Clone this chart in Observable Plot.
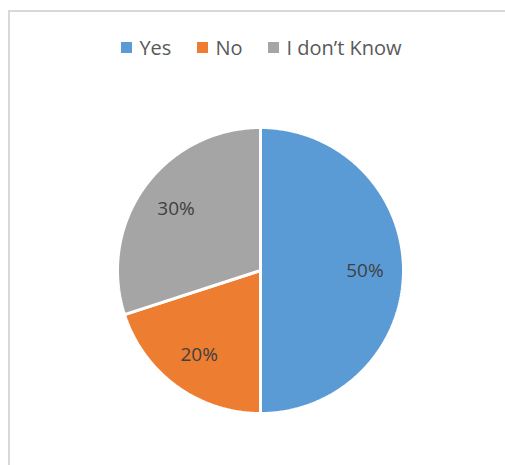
<!DOCTYPE html>
<html>
<head>
<meta charset="utf-8">
<script src="https://cdn.jsdelivr.net/npm/d3@7"></script>
<script src="https://cdn.jsdelivr.net/npm/@observablehq/plot@0.6"></script>
<style>
  html, body { margin: 0; padding: 0; background: #fff; }
  #wrap { position: relative; width: 505px; height: 465px; overflow: hidden; background: #fff; }
  #frame { position: absolute; left: 8px; top: 10px; width: 540px; height: 500px; border: 2px solid #d9d9d9; box-sizing: border-box; }
  #legend { position: absolute; left: 0; top: 34px; width: 523px; display: flex; justify-content: center; align-items: center;
            font-family: "Open Sans", sans-serif; font-size: 20px; color: #595959; }
  .item { display: flex; align-items: center; margin: 0 13px; }
  .sw { width: 11px; height: 11px; margin-right: 7px; }
  #chart { position: absolute; left: 0; top: 70px; }
</style>
</head>
<body>
<div id="wrap">
  <div id="frame"></div>
  <div id="legend"></div>
  <div id="chart"></div>
</div>
<script>
const categories = ["Yes", "No", "I don\u2019t Know"];
const values = [50, 20, 30];
const labels = ["50%", "20%", "30%"];
const colors = ["#5B9BD5", "#ED7D31", "#A5A5A5"];

// legend
const legend = document.getElementById("legend");
categories.forEach((c, i) => {
  const it = document.createElement("div");
  it.className = "item";
  const sw = document.createElement("span");
  sw.className = "sw";
  sw.style.background = colors[i];
  const t = document.createElement("span");
  t.textContent = c;
  it.appendChild(sw); it.appendChild(t);
  legend.appendChild(it);
});

// pie geometry from data
const arcs = d3.pie().sort(null).value(d => d.value)(categories.map((c, i) => ({key: c, value: values[i], label: labels[i]})));
const slicePts = [];
const labelPts = [];
arcs.forEach(a => {
  slicePts.push({key: a.data.key, x: 0, y: 0});
  const n = Math.max(2, Math.ceil((a.endAngle - a.startAngle) / 0.01));
  for (let k = 0; k <= n; k++) {
    const t = a.startAngle + (a.endAngle - a.startAngle) * k / n;
    slicePts.push({key: a.data.key, x: Math.sin(t), y: Math.cos(t)});
  }
  const m = (a.startAngle + a.endAngle) / 2;
  labelPts.push({key: a.data.key, label: a.data.label, x: 0.73 * Math.sin(m), y: 0.73 * Math.cos(m)});
});

const R = 143, cx = 260, cy = 200, W = 505, H = 395;
const chart = Plot.plot({
  width: W, height: H,
  marginLeft: cx - R, marginRight: W - (cx + R),
  marginTop: cy - R, marginBottom: H - (cy + R),
  x: {domain: [-1, 1], axis: null},
  y: {domain: [-1, 1], axis: null},
  color: {domain: categories, range: colors},
  style: {background: "transparent", overflow: "visible"},
  marks: [
    Plot.line(slicePts, {x: "x", y: "y", z: "key", fill: "key", stroke: "#ffffff", strokeWidth: 3, curve: "linear-closed", strokeLinejoin: "miter"}),
    Plot.text(labelPts, {x: "x", y: "y", text: "label", fill: "#404040", fontSize: 19, fontFamily: "Open Sans, sans-serif"})
  ]
});
document.getElementById("chart").appendChild(chart);
</script>
</body>
</html>
